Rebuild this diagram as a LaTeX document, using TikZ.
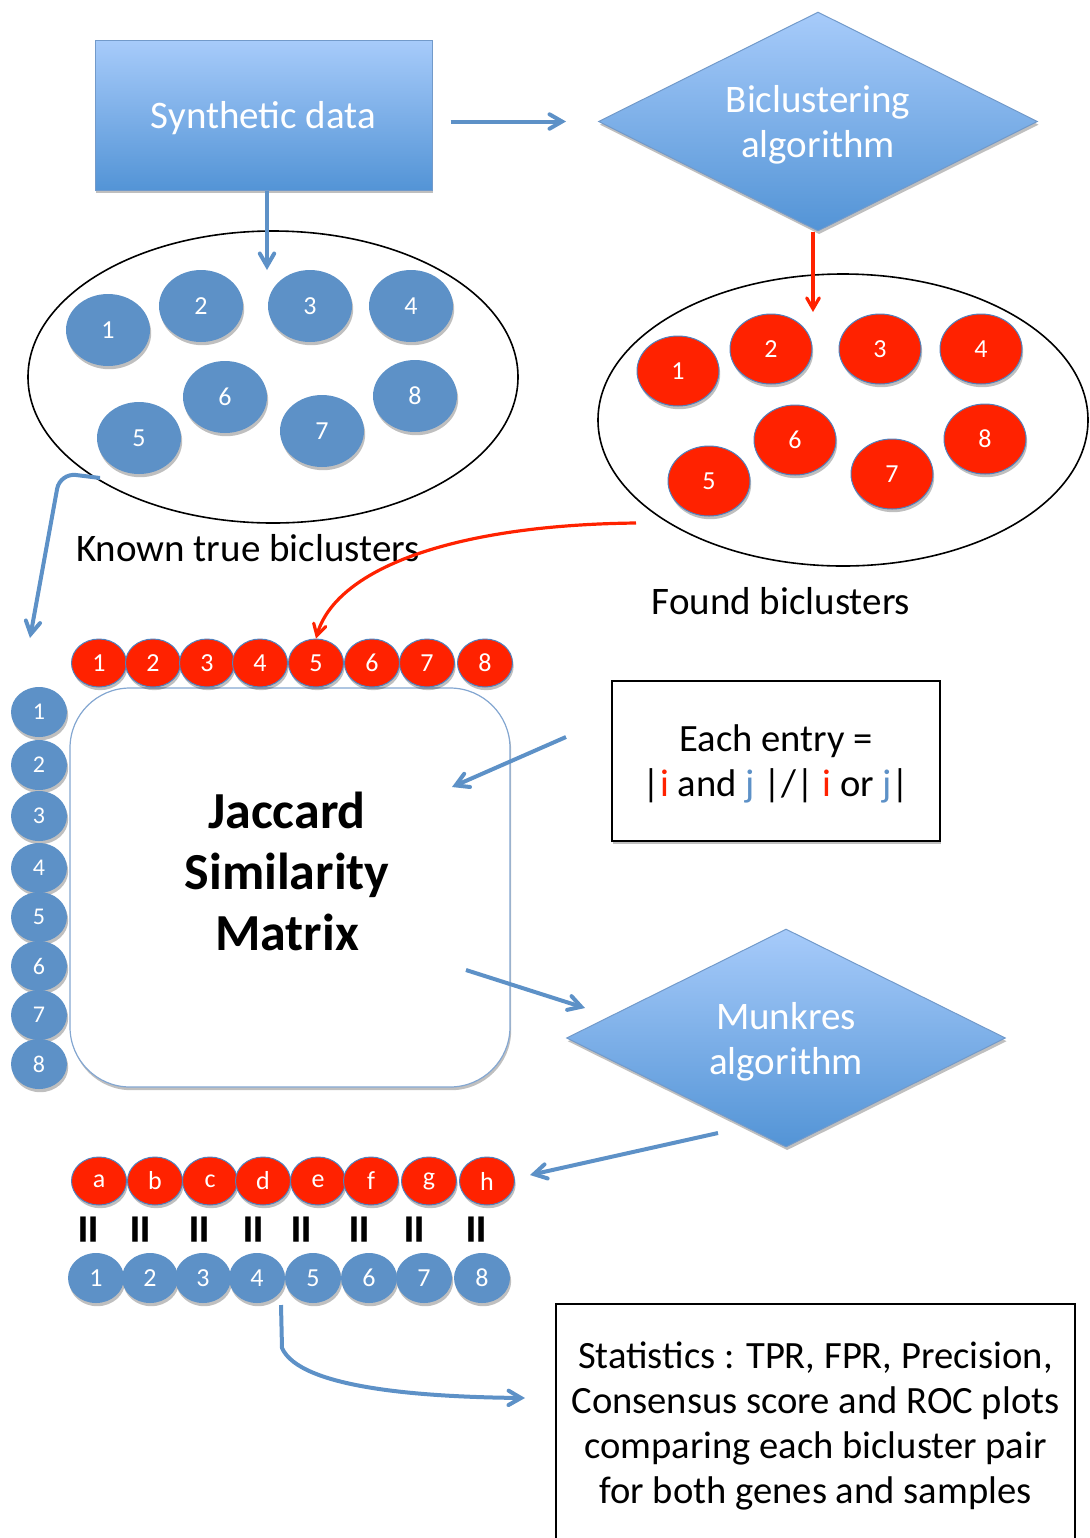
\documentclass[tikz,border=0pt]{standalone}
\usepackage{fontspec}
\setmainfont{Carlito}
\usepackage{xcolor}
\usepackage{tikz}
\usetikzlibrary{arrows,calc,shapes.geometric,shadows,positioning}
\definecolor{bcblue}{RGB}{93,145,199}
\definecolor{bcred}{RGB}{255,34,0}
\definecolor{boxtop}{RGB}{167,203,250}
\definecolor{boxbot}{RGB}{83,148,214}
\definecolor{rimblue}{RGB}{79,129,189}
\tikzset{
  softshadow/.style={drop shadow={shadow xshift=0.6pt,shadow yshift=-1.6pt,opacity=0.25,fill=black}},
  flow/.style={->,draw=bcblue,line width=2pt},
  redflow/.style={->,draw=bcred,line width=1.6pt},
  gradbox/.style={rectangle,top color=boxtop,bottom color=boxbot,draw=rimblue!80,line width=0.5pt,
    text=white,font=\fontsize{19.5}{22.5}\selectfont,align=center,text depth=0pt,softshadow},
  graddiamond/.style={gradbox,diamond,aspect=2,inner sep=0pt},
  bigset/.style={ellipse,draw=black,line width=0.8pt},
  truebc/.style={ellipse,fill=bcblue,text=white,minimum width=42pt,minimum height=36pt,inner sep=0pt,
    font=\fontsize{13}{15}\selectfont,softshadow},
  foundbc/.style={truebc,fill=bcred,draw=rimblue,line width=0.5pt,minimum width=41pt,minimum height=35pt},
  rowblue/.style={truebc,minimum width=28pt,minimum height=25pt},
  rowred/.style={foundbc,minimum width=27.5pt,minimum height=24pt},
  colblue/.style={rowblue,font=\fontsize{12}{14}\selectfont},
  caption/.style={font=\fontsize{19.5}{22}\selectfont},
  plainbox/.style={rectangle,draw=black,line width=0.7pt,fill=white,align=center,
    font=\fontsize{19.3}{22.5}\selectfont,softshadow},
  matbox/.style={rectangle,rounded corners=30pt,draw=rimblue!70,line width=0.6pt,fill=white,softshadow},
  eqsign/.style={rotate=90,font=\fontsize{30}{30}\selectfont\bfseries}
}
\newcommand{\trueat}[2]{\node[truebc] (t#1) at #2 {#1};}
\newcommand{\foundat}[2]{\node[foundbc] (f#1) at #2 {#1};}
\newcommand{\ired}{\textcolor{bcred}{i}}
\newcommand{\jblue}{\textcolor{bcblue}{j}}

\begin{document}
\begin{tikzpicture}[x=0.5pt,y=-0.5pt,>=angle 60]
    \useasboundingbox (0,0) rectangle (1089,1538);
    % top: data and algorithm
    \node[gradbox,minimum width=168.5pt,minimum height=75pt] (synth) at (263.5,115) {Synthetic data};
    \node[graddiamond,minimum width=219.5pt,minimum height=109.5pt] (algo) at (818,121.5) {Biclustering\\algorithm};
    % the two sets
    \node[bigset,minimum width=245pt,minimum height=146pt] (trueset) at (273,377) {};
    \node[bigset,minimum width=245pt,minimum height=146pt] (foundset) at (843,420) {};
    \trueat{1}{(108,330)}
    \trueat{2}{(201,306)}
    \trueat{3}{(310,306)}
    \trueat{4}{(411,306)}
    \trueat{5}{(139,438)}
    \trueat{6}{(225,397)}
    \trueat{7}{(322,431)}
    \trueat{8}{(415,396)}
    \foundat{1}{(678,371)}
    \foundat{2}{(771,349)}
    \foundat{3}{(880,349)}
    \foundat{4}{(981,349)}
    \foundat{5}{(709,481)}
    \foundat{6}{(795,440)}
    \foundat{7}{(892,474)}
    \foundat{8}{(985,439)}
    \node[caption] (truelbl) at (248,548) {Known true biclusters};
    \node[caption] (foundlbl) at (781,601) {Found biclusters};
    % matrix
    \node[matbox,minimum width=220pt,minimum height=199.5pt] (jaccard) at (290,887.5) {};
    \node[font=\fontsize{26}{30.5}\selectfont\bfseries,align=center] (jactext) at (287,871) {Jaccard\\Similarity\\Matrix};
    \foreach \x/\n in {99/1,153/2,207/3,260/4,316/5,372/6,427/7,485/8}
        \node[rowred] (r\n) at (\x,663) {\n};
    \foreach \y/\n in {712/1,765/2,816/3,868/4,917/5,966/6,1015/7,1064/8}
        \node[colblue] (c\n) at (39,\y) {\n};
    \node[plainbox,minimum width=164pt,minimum height=80pt,text depth=-2pt] (entry) at (776,761)
        {Each entry =\\ |\ired{} and \jblue{} |/| \ired{} or \jblue|};
    \node[graddiamond,minimum width=219.5pt,minimum height=109pt] (munkres) at (786,1038) {Munkres\\algorithm};
    % matching
    \foreach \x/\n in {99/a,155/b,210/c,263/d,318/e,371/f,429/g,487/h}
        \node[rowred] (m\n) at (\x,1181) {\n};
    \foreach \x/\n in {94/1,146/2,205/3,259/4,307/5,365/6,420/7,482/8}
        \node[eqsign] (eq\n) at (\x,1230) {=};
    \foreach \x/\n in {96/1,150/2,203/3,257/4,313/5,369/6,424/7,482/8}
        \node[rowblue] (b\n) at (\x,1278) {\n};
    \node[plainbox,minimum width=259.5pt,minimum height=122pt] (stats) at (815.5,1426)
        {Statistics : TPR, FPR, Precision,\\Consensus score and ROC plots\\comparing each bicluster pair\\for both genes and samples};
    % connectors
    \coordinate (trueend) at (267,270);
    \coordinate (foundend) at (813,312);
    \coordinate (truetail) at (100,478);
    \coordinate (colhead) at (30,638);
    \coordinate (foundtail) at (636,523);
    \coordinate (entrytail) at (566,737);
    \coordinate (mathead) at (452,787);
    \coordinate (mattail) at (466,970);
    \coordinate (munkhead) at (585,1008);
    \coordinate (munktail) at (718,1133);
    \coordinate (rowhead) at (530,1175);
    \coordinate (rowtail) at (281,1305);
    \coordinate (stathead) at (525,1398);
    \draw[flow,shorten <=9pt,shorten >=16pt] (synth.east |- algo) -- (algo.west);
    \draw[flow] (synth.south -| trueend) -- (trueend);
    \draw[redflow] (algo.south -| foundend) -- (foundend);
    \draw[flow,rounded corners=8pt] (truetail) -- (60,473) -- (colhead);
    \draw[redflow] (foundtail) .. controls (450,525) and (335,570) .. (r5.north);
    \draw[flow] (entrytail) -- (mathead);
    \draw[flow] (mattail) -- (munkhead);
    \draw[flow] (munktail) -- (rowhead);
    \draw[flow] (rowtail) -- (282,1348) .. controls (300,1388) and (420,1397) .. (stathead);
\end{tikzpicture}
\end{document}
